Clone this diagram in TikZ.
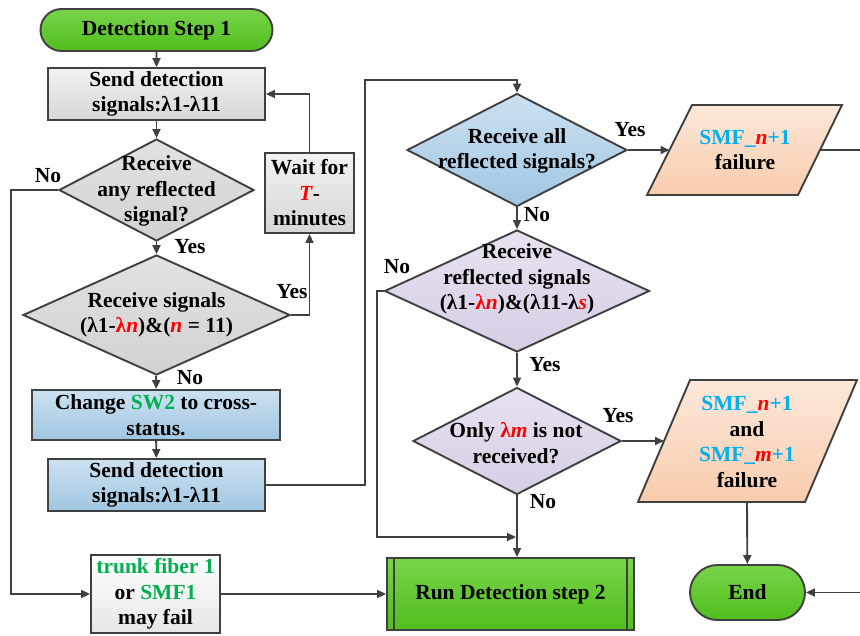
\documentclass[tikz,border=0pt]{standalone}
\usepackage{fontspec}
\setmainfont{Liberation Serif}
\usetikzlibrary{shapes.geometric,shapes.misc,arrows.meta}

\definecolor{edge}{HTML}{404040}
\definecolor{tgreen}{HTML}{00B050}
\definecolor{tcyan}{HTML}{00B0F0}
\definecolor{tred}{HTML}{FF0000}
\definecolor{greenA}{RGB}{120,212,74}
\definecolor{greenB}{RGB}{80,190,28}
\definecolor{grayA}{RGB}{242,242,242}
\definecolor{grayB}{RGB}{214,214,214}
\definecolor{paleB}{RGB}{230,230,230}
\definecolor{dgrayA}{RGB}{226,226,226}
\definecolor{dgrayB}{RGB}{210,210,210}
\definecolor{blueA}{RGB}{204,225,241}
\definecolor{blueB}{RGB}{160,198,226}
\definecolor{lavA}{RGB}{232,226,240}
\definecolor{lavB}{RGB}{214,206,228}
\definecolor{peachA}{RGB}{252,232,218}
\definecolor{peachB}{RGB}{248,204,172}

% red italic variable
\newcommand\rv[1]{\textcolor{tred}{\textit{#1}}}

\begin{document}
\begin{tikzpicture}[x=1pt,y=-1pt,
  every node/.style={font=\fontsize{21.5}{25.5}\selectfont\bfseries,align=center,text=black},
  outline/.style={draw=edge,line width=1.9pt,inner sep=0pt},
  term/.style={outline,rounded rectangle,top color=greenA,bottom color=greenB},
  graybox/.style={outline,rectangle,top color=grayA,bottom color=grayB},
  bluebox/.style={outline,rectangle,top color=blueA,bottom color=blueB},
  whitebox/.style={outline,rectangle,top color=white,bottom color=paleB},
  greenbox/.style={outline,rectangle,top color=greenA,bottom color=greenB},
  graydia/.style={outline,diamond,top color=dgrayA,bottom color=dgrayB},
  bluedia/.style={outline,diamond,top color=blueA,bottom color=blueB},
  lavdia/.style={outline,diamond,top color=lavA,bottom color=lavB},
  peach/.style={draw=edge,line width=1.9pt,line join=miter,top color=peachA,bottom color=peachB},
  conn/.style={draw=edge,line width=1.9pt},
  arr/.style={conn,-{Triangle[length=9pt,width=8pt]}}
]
\path[use as bounding box,clip] (0,0) rectangle (860,635);
\fill[white] (0,0) rectangle (860,635);

% ---- left column ----
\node[term,minimum width=232pt,minimum height=42pt] (start) at (156.5,30) {Detection Step 1};
\node[graybox,minimum width=217pt,minimum height=52pt] (send1) at (156.5,94) {Send detection\\signals:λ1-λ11};
\node[graydia,minimum width=195pt,minimum height=102pt] (d1) at (156.5,190) {};
\node (d1t) at (156.5,191) {Receive\\any reflected\\signal?};
\node[graybox,minimum width=89pt,minimum height=80pt] (wait) at (309.5,193) {Wait for\\\rv{T}-\\minutes};
\node[graydia,minimum width=267pt,minimum height=120pt] (d2) at (156.5,315) {};
\node (d2t) at (156.5,315) {Receive signals\\(λ1-\textcolor{tred}{λ\textit{n}})\&(\rv{n} = 11)};
\node[bluebox,minimum width=248pt,minimum height=50pt] (chg) at (156,415) {Change \textcolor{tgreen}{SW2} to cross-\\status.};
\node[bluebox,minimum width=217pt,minimum height=52pt] (send2) at (156.5,485) {Send detection\\signals:λ1-λ11};
\node[whitebox,minimum width=129pt,minimum height=78pt] (trunk) at (155.5,594) {\textcolor{tgreen}{trunk fiber 1}\\or \textcolor{tgreen}{SMF1}\\may fail};

% ---- middle column ----
\node[greenbox,minimum width=247pt,minimum height=72pt] (run) at (510.5,594) {Run Detection step 2};
\draw[conn] ([xshift=8pt]run.north west) -- ([xshift=8pt]run.south west);
\draw[conn] ([xshift=-8pt]run.north east) -- ([xshift=-8pt]run.south east);
\node[bluedia,minimum width=220pt,minimum height=113pt] (d3) at (517,150) {};
\node (d3t) at (517,151) {Receive all\\reflected signals?};
\node[lavdia,minimum width=265pt,minimum height=122pt] (d4) at (517,291) {};
\node (d4t) at (517,279) {Receive\\reflected signals\\(λ1-\textcolor{tred}{λ\textit{n}})\&(λ11-λ\rv{s})};
\node[lavdia,minimum width=208pt,minimum height=107pt] (d5) at (517,441) {};
\node (d5t) at (516,443) {Only \textcolor{tred}{λ\textit{m}} is not\\received?};

% ---- right column ----
\path[peach] (692,105) -- (842,105) -- (798,195) -- (647,195) -- cycle;
\node (p1) at (745,150) {\textcolor{tcyan}{SMF\_}\rv{n}\textcolor{tcyan}{+1}\\failure};
\coordinate (p1w) at (669.5,150);
\coordinate (p1e) at (820,150);
\path[peach] (690,380) -- (857,380) -- (805,502) -- (638,502) -- cycle;
\node (p2) at (747,442) {\textcolor{tcyan}{SMF\_}\rv{n}\textcolor{tcyan}{+1}\\and\\\textcolor{tcyan}{SMF\_}\rv{m}\textcolor{tcyan}{+1}\\failure};
\coordinate (p2w) at (664,441);
\coordinate (p2s) at (747,502);
\node[term,minimum width=115pt,minimum height=55pt] (end) at (747.5,592.5) {End};

% ---- connectors ----
\draw[arr] (start) -- (send1);
\draw[arr] (send1) -- (d1);
\draw[arr] (d1) -- (d2);
\draw[arr] (d1.west) -- ++(-47,0) |- (trunk.west);
\draw[arr] (d2.east) -| (wait.south);
\draw[arr] (wait.north) |- (send1.east);
\draw[arr] (d2) -- (chg);
\draw[arr] (chg) -- (send2);
\draw[arr] (send2.east) -| (365,80) -| (d3.north);
\draw[arr] (trunk) -- (run);
\draw[arr] (d3.east) -- (p1w);
\draw[arr] (d3) -- (d4);
\coordinate (join) at (516,537);
\draw[arr] (d4.west) -- ++(-7,0) |- (join);
\draw[arr] (d4) -- (d5);
\draw[arr] (d5.south) -- (d5.south |- run.north);
\draw[arr] (d5.east) -- (p2w);
\draw[arr] (p2s) -- (end);
\draw[arr] (p1e) -- (880,150) |- (end.east);

% ---- branch labels ----
\node (l1) at (48,176) {No};
\node (l2) at (190,247) {Yes};
\node (l3) at (292,292) {Yes};
\node (l4) at (190,378) {No};
\node (l5) at (630,130) {Yes};
\node (l6) at (537,215) {No};
\node (l7) at (397,267) {No};
\node (l8) at (545,365) {Yes};
\node (l9) at (618,416) {Yes};
\node (l10) at (543,502) {No};
\end{tikzpicture}
\end{document}
